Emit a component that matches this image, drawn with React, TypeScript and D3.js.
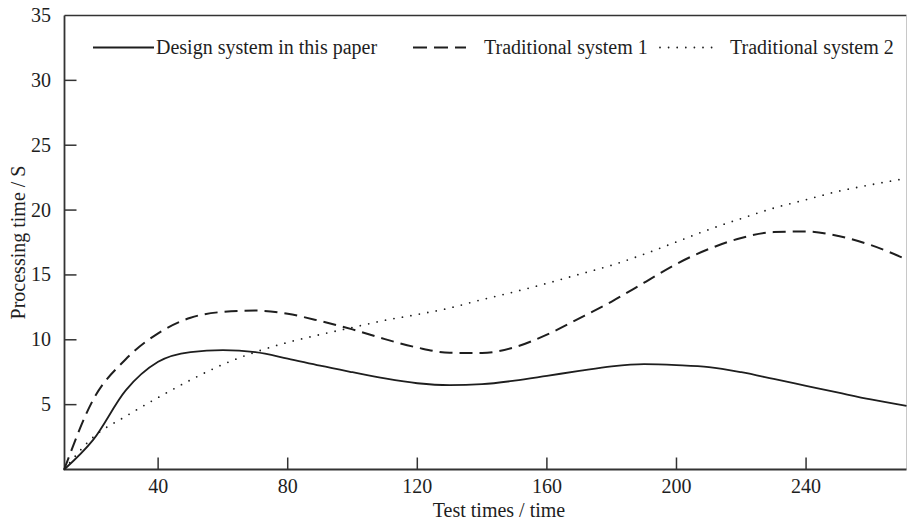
import * as d3 from "d3";

// test times (x) and processing time (S) for each system
const testTimes = [11, 20, 30, 40, 50, 60, 70, 80, 90, 100, 110, 120, 130, 140, 150, 160, 170, 180, 190, 200, 210, 220, 230, 240, 250, 260, 271];
const designSystem = [0, 2.3, 6.1, 8.3, 9.05, 9.2, 9.05, 8.55, 8.0, 7.5, 7.02, 6.65, 6.5, 6.58, 6.85, 7.22, 7.6, 7.95, 8.12, 8.05, 7.9, 7.5, 6.98, 6.45, 5.92, 5.4, 4.9];
const traditional1 = [0, 5.4, 8.5, 10.5, 11.7, 12.15, 12.25, 12.0, 11.45, 10.8, 10.05, 9.4, 9.0, 8.98, 9.42, 10.4, 11.65, 12.95, 14.4, 15.85, 17.0, 17.85, 18.3, 18.35, 18.0, 17.3, 16.2];
const traditional2 = [0, 2.5, 4.1, 5.55, 6.9, 8.1, 9.05, 9.8, 10.4, 10.95, 11.5, 11.95, 12.45, 13.1, 13.7, 14.35, 15.05, 15.75, 16.6, 17.55, 18.5, 19.35, 20.15, 20.8, 21.45, 21.95, 22.45];

const seriesNames = ["Design system in this paper", "Traditional system 1", "Traditional system 2"];
const xTicks = [40, 80, 120, 160, 200, 240];
const yTicks = [5, 10, 15, 20, 25, 30, 35];

const W = 909;
const H = 524;
const left = 64.5, right = 906.5, top = 15.5, bottom = 469.5;
const font = "'Liberation Serif', 'Times New Roman', serif";
const ink = "#1e1e1e";

export default function App() {
  const x = d3.scaleLinear().domain([11.1, 271]).range([left, right]);
  const y = d3.scaleLinear().domain([0, 35]).range([bottom, top]);

  const line = d3
    .line<number>()
    .x((_, i) => x(testTimes[i]))
    .y((d) => y(d))
    .curve(d3.curveMonotoneX);

  const styles = [
    { dash: undefined, width: 1.8, cap: "butt" },
    { dash: "13 7", width: 2, cap: "butt" },
    { dash: "0 8.6", width: 1.8, cap: "round" },
  ];
  const all = [designSystem, traditional1, traditional2];

  // legend: sample line start/end and text start
  const legend = [
    { x1: 93, x2: 154, tx: 156 },
    { x1: 413, x2: 466, tx: 484 },
    { x1: 660, x2: 716, tx: 730 },
  ];
  const legendY = 47.5;

  return (
    <svg width={W} height={H} style={{ position: "absolute", left: 0, top: 0, background: "#fff" }} fontFamily={font}>
      {/* frame */}
      <line x1={left} x2={right} y1={top} y2={top} stroke="#333" strokeWidth={1.5} />
      <line x1={right} x2={right} y1={top} y2={bottom} stroke="#c8c8c8" strokeWidth={1} />
      <line x1={left} x2={left} y1={top} y2={bottom} stroke="#333" strokeWidth={1.8} />
      <line x1={left} x2={right} y1={bottom} y2={bottom} stroke="#333" strokeWidth={2} />

      {/* x ticks */}
      {xTicks.map((t) => (
        <g key={t}>
          <line x1={x(t)} x2={x(t)} y1={bottom} y2={bottom - 12} stroke="#333" strokeWidth={1.5} />
          <text x={x(t)} y={493} textAnchor="middle" fontSize={20} fill={ink}>{t}</text>
        </g>
      ))}
      {/* y ticks */}
      {yTicks.map((t) => (
        <g key={t}>
          {t < 35 && <line x1={left} x2={left + 12} y1={y(t)} y2={y(t)} stroke="#333" strokeWidth={1.5} />}
          <text x={51} y={y(t) + 6.5} textAnchor="end" fontSize={20} fill={ink}>{t}</text>
        </g>
      ))}

      <text x={499} y={517} textAnchor="middle" fontSize={20} fill={ink}>Test times / time</text>
      <text transform={`translate(25,${(top + bottom) / 2}) rotate(-90)`} textAnchor="middle" fontSize={20} fill={ink}>
        Processing time / S
      </text>

      {/* series */}
      {all.map((s, i) => (
        <path
          key={i}
          d={line(s) ?? ""}
          fill="none"
          stroke={ink}
          strokeWidth={styles[i].width}
          strokeDasharray={styles[i].dash}
          strokeLinecap={styles[i].cap as any}
        />
      ))}

      {/* legend */}
      {seriesNames.map((n, i) => (
        <g key={n}>
          <line
            x1={legend[i].x1}
            x2={legend[i].x2}
            y1={legendY}
            y2={legendY}
            stroke={ink}
            strokeWidth={styles[i].width}
            strokeDasharray={i === 1 ? "14 7" : styles[i].dash}
            strokeLinecap={styles[i].cap as any}
          />
          <text x={legend[i].tx} y={legendY + 6.5} fontSize={20} fill={ink}>{n}</text>
        </g>
      ))}
    </svg>
  );
}
